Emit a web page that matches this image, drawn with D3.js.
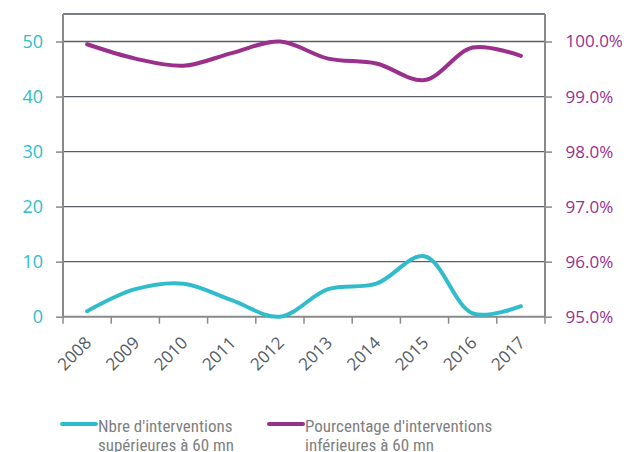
<!DOCTYPE html>
<html>
<head>
<meta charset="utf-8">
<script src="https://cdn.jsdelivr.net/npm/d3@7"></script>
<style>
  body { margin: 0; background: #fff; }
  svg { display: block; }
</style>
</head>
<body>
<div class="chart"></div>
<script>
(function () {
    'use strict';

    // data
    const years = ['2008', '2009', '2010', '2011', '2012', '2013', '2014', '2015', '2016', '2017'];
    const overSixty = [1, 5, 6, 3, 0, 5, 6, 11, 0.6, 1.9];
    const underSixtyPct = [99.95, 99.69, 99.56, 99.79, 100.0, 99.69, 99.6, 99.3, 99.89, 99.74];
    const leftTicks = [0, 10, 20, 30, 40, 50];
    const rightTicks = [95, 96, 97, 98, 99, 100];
    const legendLabels = [
        ["Nbre d'interventions", 'supérieures à 60 mn'],
        ["Pourcentage d'interventions", 'inférieures à 60 mn']
    ];

    const cyan = '#31bccb';
    const purple = '#9a2f8c';
    const width = 635, height = 452;
    const margin = { top: 14, left: 63, right: 90, bottom: 135 };
    const plotW = 545 - margin.left;
    const plotH = 316.7 - margin.top;

    const svg = d3.select('.chart').append('svg').attr('width', width).attr('height', height);

    const x = d3.scaleBand().domain(years).range([margin.left, margin.left + plotW]);
    const yLeft = d3.scaleLinear().domain([0, 55]).range([margin.top + plotH, margin.top]);
    const yRight = d3.scaleLinear().domain([95, 100.5]).range([margin.top + plotH, margin.top]);

    // gridlines
    svg.append('g').selectAll('line').data(leftTicks.slice(1)).enter().append('line')
        .attr('x1', margin.left).attr('x2', margin.left + plotW)
        .attr('y1', function (d) { return yLeft(d); })
        .attr('y2', function (d) { return yLeft(d); })
        .attr('stroke', '#5a5f66').attr('stroke-width', 1.3);

    // top border
    svg.append('line')
        .attr('x1', margin.left).attr('x2', margin.left + plotW)
        .attr('y1', margin.top).attr('y2', margin.top)
        .attr('stroke', '#7b7f86').attr('stroke-width', 2);

    const axisColor = '#8a8a8a';

    const leftAxis = svg.append('g')
        .attr('transform', 'translate(' + margin.left + ',0)')
        .call(d3.axisLeft(yLeft).tickValues(leftTicks).tickSize(7).tickPadding(13));
    leftAxis.select('.domain').attr('d', 'M0,' + margin.top + 'V' + (margin.top + plotH));

    const rightAxis = svg.append('g')
        .attr('transform', 'translate(' + (margin.left + plotW) + ',0)')
        .call(d3.axisRight(yRight).tickValues(rightTicks).tickSize(7).tickPadding(13.5)
            .tickFormat(function (d) { return d3.format('.1f')(d) + '%'; }));
    rightAxis.select('.domain').attr('d', 'M0,' + margin.top + 'V' + (margin.top + plotH));

    const bottomAxis = svg.append('g')
        .attr('transform', 'translate(0,' + (margin.top + plotH) + ')')
        .call(d3.axisBottom(x).tickSize(0));
    bottomAxis.select('.domain').attr('d', 'M' + margin.left + ',0H' + (margin.left + plotW));
    bottomAxis.selectAll('text')
        .attr('text-anchor', 'end')
        .attr('transform', 'translate(1,23) rotate(-45)')
        .attr('dy', '0.35em').attr('y', 0)
        .style('fill', '#555b62').style('font-size', '17px');

    // small ticks between years
    bottomAxis.append('g').selectAll('line').data(years.concat(['end'])).enter().append('line')
        .attr('x1', function (d, i) { return margin.left + i * x.step(); })
        .attr('x2', function (d, i) { return margin.left + i * x.step(); })
        .attr('y1', 0).attr('y2', 7)
        .attr('stroke', axisColor).attr('stroke-width', 1.5);

    [leftAxis, rightAxis, bottomAxis].forEach(function (g) {
        g.select('.domain').attr('stroke', axisColor).attr('stroke-width', 2);
        g.selectAll('.tick line').attr('stroke', axisColor).attr('stroke-width', 1.5);
        g.selectAll('text').style('font-family', '"Open Sans", sans-serif');
    });
    leftAxis.selectAll('text').style('fill', cyan).style('font-size', '18px');
    rightAxis.selectAll('text').style('fill', purple).style('font-size', '17px');

    const curve = d3.curveCatmullRom.alpha(0.5);

    const lineLeft = d3.line()
        .x(function (d, i) { return x(years[i]) + x.bandwidth() / 2; })
        .y(function (d) { return yLeft(d); })
        .curve(curve);
    const lineRight = d3.line()
        .x(function (d, i) { return x(years[i]) + x.bandwidth() / 2; })
        .y(function (d) { return yRight(d); })
        .curve(curve);

    svg.append('path').datum(underSixtyPct).attr('d', lineRight)
        .attr('fill', 'none').attr('stroke', purple).attr('stroke-width', 4).attr('stroke-linecap', 'round');
    svg.append('path').datum(overSixty).attr('d', lineLeft)
        .attr('fill', 'none').attr('stroke', cyan).attr('stroke-width', 4).attr('stroke-linecap', 'round');

    // legend
    const legend = svg.append('g').attr('class', 'legend');
    const items = legend.selectAll('g').data([cyan, purple]).enter().append('g')
        .attr('transform', function (d, i) { return 'translate(' + [62, 269][i] + ',0)'; });
    items.append('line')
        .attr('x1', 0).attr('x2', 34).attr('y1', 424).attr('y2', 424)
        .attr('stroke', function (d) { return d; }).attr('stroke-width', 4).attr('stroke-linecap', 'round');
    items.append('text')
        .attr('x', 36).attr('y', 432)
        .style('font-family', '"Liberation Sans Narrow", "Roboto Condensed", sans-serif')
        .style('font-size', '17px').style('fill', '#7f7f7f')
        .each(function (d, i) {
            const t = d3.select(this);
            legendLabels[i].forEach(function (s, j) {
                t.append('tspan').attr('x', 36).attr('dy', j === 0 ? 0 : 19).text(s);
            });
        });
}());
</script>
</body>
</html>
